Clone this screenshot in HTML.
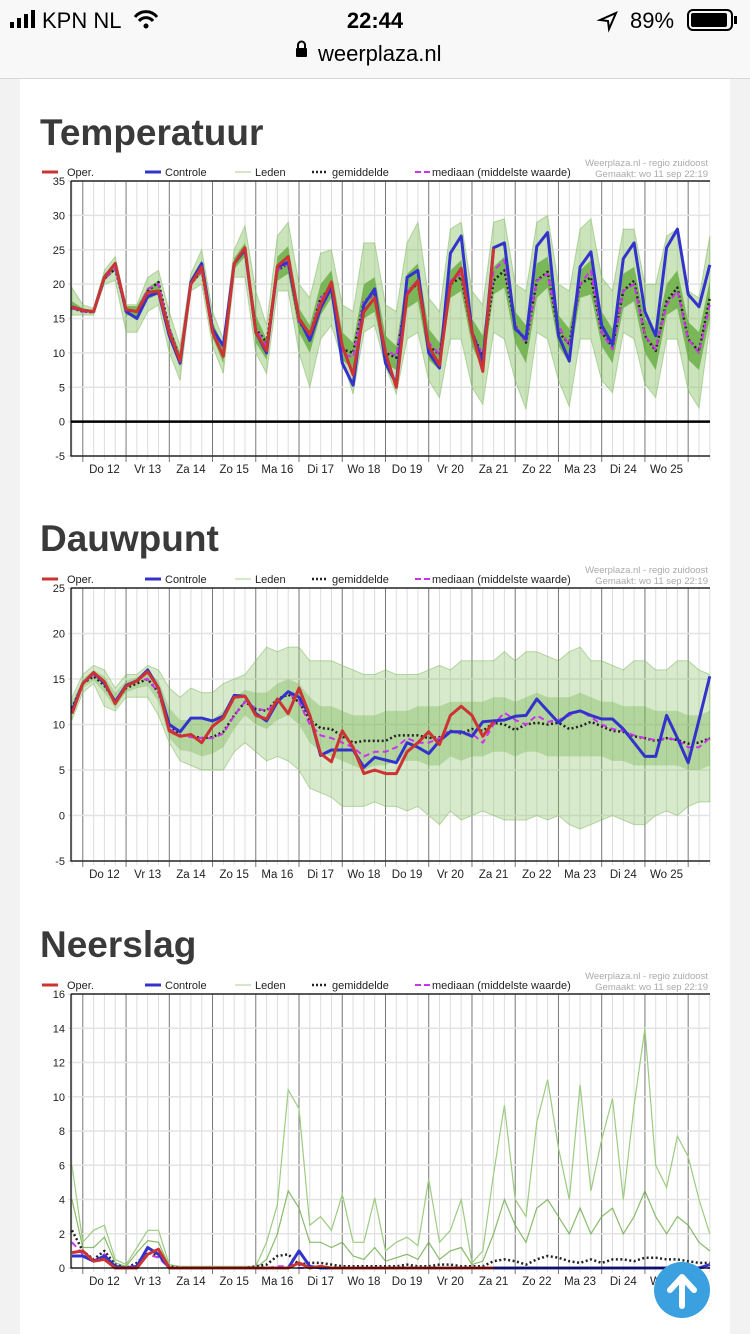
<!DOCTYPE html>
<html><head><meta charset="utf-8">
<style>
body{margin:0;width:750px;height:1334px;overflow:hidden;background:#f2f2f2;font-family:"Liberation Sans",sans-serif;position:relative}
#status{position:absolute;left:0;top:0;width:750px;height:78px;background:#f8f8f8;border-bottom:1px solid #d8d8d8}
#content{position:absolute;left:20px;top:79px;width:710px;height:1255px;background:#fff}
h2{position:absolute;left:40px;margin:0;font-size:37px;font-weight:bold;color:#3a3a3a;font-family:"Liberation Sans",sans-serif}
svg{position:absolute;left:0;top:0}
</style></head><body>
<div id="status">
  <svg width="750" height="78">
    <rect x="10" y="22" width="4" height="6" fill="#000"/><rect x="17" y="18" width="4" height="10" fill="#000"/><rect x="24" y="14" width="4" height="14" fill="#000"/><rect x="31" y="10" width="4" height="18" fill="#000"/>
    <text x="42" y="28" font-size="22" fill="#000" font-family="Liberation Sans">KPN NL</text>
    <path d="M135 17 a14 14 0 0 1 22 0 M139 21 a9 9 0 0 1 14 0" stroke="#000" stroke-width="3" fill="none"/><circle cx="146" cy="26" r="2.5" fill="#000"/>
    <text x="375" y="28" font-size="22" font-weight="bold" text-anchor="middle" fill="#000" font-family="Liberation Sans">22:44</text>
    <path d="M600 20 l16 -7 l-7 16 l-1 -8z" fill="none" stroke="#000" stroke-width="2"/>
    <text x="630" y="28" font-size="22" fill="#000" font-family="Liberation Sans">89%</text>
    <rect x="688" y="10" width="44" height="20" rx="5" fill="none" stroke="#000" stroke-width="2"/><rect x="691" y="13" width="36" height="14" rx="2" fill="#000"/><rect x="734" y="16" width="3" height="8" fill="#000"/>
    <rect x="296" y="48" width="11" height="9" rx="1" fill="#000"/><path d="M298 48 v-3 a3.5 3.5 0 0 1 7 0 v3" stroke="#000" stroke-width="2" fill="none"/>
    <text x="318" y="61" font-size="22" fill="#000" font-family="Liberation Sans">weerplaza.nl</text>
  </svg>
</div>
<div id="content"></div>
<h2 style="top:112px">Temperatuur</h2>
<h2 style="top:518px">Dauwpunt</h2>
<h2 style="top:924px">Neerslag</h2>
<svg id="charts" width="750" height="1334"></svg>
<svg width="750" height="1334" style="pointer-events:none">
  <g style="pointer-events:auto">
    <circle cx="682" cy="1290" r="28" fill="#3aa0e0"/>
    <path d="M682 1306 v-26 M670 1290 l12 -13 l12 13" stroke="#fff" stroke-width="6" fill="none" stroke-linecap="round" stroke-linejoin="round"/>
  </g>
</svg>
<script>
const dayLabels=["Do 12","Vr 13","Za 14","Zo 15","Ma 16","Di 17","Wo 18","Do 19","Vr 20","Za 21","Zo 22","Ma 23","Di 24","Wo 25"];
// Temperatuur
const tempOper=[16.7,16.2,16,21,23,16.3,16,18.8,19,13,8.8,20,22.5,13,9.5,23,25.3,13,10.3,22.6,24,15,12.7,17,20.3,11,6.8,16,18,10,5,18.5,20.5,11,8.2,20,22.3,13,7.3,25.2];
const tempCtrl=[16.7,16.2,16,21,23,16,15,18.2,18.8,12.5,8.5,20.3,23,13.5,11,23,25,13,10,22.5,23.2,15,11.8,16.5,19.5,8.5,5.3,17,19.3,8.5,5.5,21,22,10,7.8,24.5,27,13,8.5,25.3,26,13.5,12,25.5,27.5,12.5,8.8,22.5,24.7,14,11.2,23.7,26,16,12.5,25.3,28,18.5,16.7,22.8];
const tempMean=[16.5,16,15.9,20.8,22.2,16.2,16,19,20.3,13.5,9,20,22,13,9.5,23,25,13.5,11.5,22,23,14.5,12.5,18,19.5,10.5,10,17.5,18.5,10,9.3,19,20,11,9.8,20,21,13,9.5,20.5,22,14,11.5,20.5,21.8,13,11.3,20,21,13,10.8,19,20.5,12.5,10.3,17.5,19.5,12,10.2,18];
const tempMedian=[16.5,16,15.9,20.8,22.2,16.2,16,19.3,20,13.5,9,20,22,13,9.5,23,25,13.5,11,22,23,14.5,12.5,18,19,10,9.3,17.5,18.5,10.5,9.5,19,20.5,11.5,9.8,20.5,21.5,13,9.5,22,23.5,14,11.5,20.5,21.5,14,11,20,22,13,10.5,19,20,12.5,10.5,17,19,12,10,17];
const tempHi=[19.5,17,16.5,22,24,17,17,21,22,16,11,21.5,25,16,12,25,28.5,19,14,27,29,20,18,24.5,25,17,16,26,26,17,16,26,29,18,16,28,29,19,17,29,29.5,20,19,29,30,20,19,28,29.5,21,19,28,28,20,20,27,28,19,18,27];
const tempLo=[15.5,15.5,15.5,20,20.5,13,13,16,17,10,6,19,20,11,7,21,21,10,7,19,19,10,5,12,14,9,4,13,14,8,4,12,13,6,3.5,12,12,5,2.5,13,12,6,1.8,13,12,6,2.2,12,12,6,4.2,13,12,5.5,3.5,12,12,4.5,2,14];
const tempQ3=[17.5,16.5,16.2,21.5,23,16.8,16.8,19.5,20.5,14,10,20.8,23.5,14.5,11,23.8,26,15.5,12,24,25.5,16.5,14,20,22,13,11.5,20,21,12.5,11,21.5,23,13.5,11.5,22,23.5,15,12.5,22.5,24,16,14,23,24,15.5,13.5,22,23.5,16,13.5,21.5,22.5,15,13,20,22,14.5,13,20.5];
const tempQ1=[16.3,15.9,15.8,20.5,22,15.5,15.3,17.8,18.5,12,8,19.8,21.5,12.3,8.5,22.2,24,11.5,9,20.5,21.5,13,10,15.5,18,9,7.5,15,16,8.5,7.5,16.5,17.5,9,7.5,18,19,11,7.5,18.5,19.5,11.5,8.5,18,19.5,11,8.5,18,18.5,11,8.5,16.5,17.5,10,7.5,15.5,16.5,9,7.5,15];
// Dauwpunt
const dewOper=[11.2,14.5,15.7,14.7,12.3,14.2,14.8,15.8,14,9.3,8.7,8.9,8,9.8,10.7,13,13.1,11,10.6,12.8,11.2,14,11,6.8,5.9,9.3,7.5,4.6,5,4.6,4.6,7,8,9.2,7.8,11,12,11,8.7,10.3];
const dewCtrl=[11.5,14.5,15.7,14.5,12.5,14.3,14.8,16,14,10,9.2,10.7,10.7,10.4,10.9,13.2,13.1,11.2,10.4,12.5,13.6,13,11,6.6,7.2,7.2,7.2,5.3,6.4,6.1,5.8,8,7.5,6.8,8.2,9.2,9.2,8.7,10.3,10.4,10.5,10.9,11,12.8,11.5,10.2,11.2,11.5,11,10.6,10.6,9.5,8,6.5,6.5,11,8.5,5.8,10.5,15.3];
const dewMean=[11.8,14.5,15.3,14.3,12.5,14,14.5,15,13.5,10,8.8,8.8,8.5,8.6,9.2,11,12.5,11.7,11.5,12.8,13.3,12.5,10.5,9.6,9.5,8.7,8,8.2,8.2,8.2,8.8,8.8,8.8,8.5,8.6,9.3,9,9.5,9.3,10.2,10,9.4,10,10.2,10,10.2,9.5,9.8,10.3,9.8,9.3,9.2,8.7,8.5,8.2,8.5,8.3,7.9,8,8.5];
const dewMedian=[11.5,14.5,15.5,14.5,12.3,14.2,14.8,15,13.5,9.5,8.8,8.6,8.5,8.5,9,11,12.5,11.8,11.5,12.5,13.5,12.5,10,8.8,8.5,8,7.5,6.5,7,7,7.5,8.5,8,8,8.5,9.3,9,9,8,10,11.3,10.5,10,11,10.3,10.5,11,11.5,10.8,10,9.5,9.3,8.8,8.5,8.3,8.5,8.3,7.5,7.5,8.5];
const dewHi=[13,15.5,16.5,16,14,15.5,15.5,16.5,16,14,13,14,13.5,13.5,14.5,15,15.5,17,18.5,18,18.5,18.5,17,17,17,16.5,16,15.5,15.5,16,15.5,15.5,15.5,16,16.5,16,17,17,17,17,18,17,18,18,17.5,17,18,18.5,17,17,16.5,16,17,17,16,16,17,17,16,15.5];
const dewLo=[10.5,13.5,14.5,12,11.5,13,13,13,11,8,6,5.5,5,5,5,7,8,7,6,6.5,6,5,3,2.5,2,1,1,1,1.5,1,1,0.5,1,0,-1,0.5,-0.5,0,0.5,0,-0.5,-0.5,-0.5,0,-0.5,0,-1,-1.5,-1,-0.5,0,-0.5,-1,-1,0,0.5,0,1,1.5,1.5];
const dewQ3=[12.5,15,16,15.3,13.5,14.8,15.2,15.8,14.8,11.8,10.5,10.5,10.5,10.5,11.5,13,13.8,13.5,13.5,14.5,15,14.5,13,12,12,11.5,11,11,11,11.5,11.5,11.5,12,12,12,12.5,12.5,12.5,12.5,13,13,12.5,13,13.5,13,13,13,13.5,13,12.5,12.5,12,12,12,11.5,11.5,11.5,11,11,11.5];
const dewQ1=[11,14,14.8,13.5,11.8,13.5,14,14.2,12.5,8.5,7.2,7,6.5,6.8,7.5,9.5,11,10,9.5,10.5,11,10,8,7,6.5,6,5.5,5,5.5,5.5,6,6,6,5.5,5.5,6.5,6,6.5,6.5,7,7,6.5,7,7,6.5,6.5,6.5,6.5,6.5,6.5,6,6,5.5,5.5,5.5,5.5,5.5,5,5,5.5];
// Neerslag
const rainOper=[0.9,1,0.4,0.5,0,0,0,0.8,1.1,0,0,0,0,0,0,0,0,0,0,0,0,0.3,0,0.1,0,0,0,0,0,0,0,0,0,0,0,0,0,0,0,0];
const rainCtrl=[0.7,0.7,0.4,0.7,0.1,0,0.1,1.2,0.8,0,0,0,0,0,0,0,0,0,0,0,0,1,0.1,0,0,0,0,0,0,0,0,0,0,0,0,0,0,0,0,0,0,0,0,0,0,0,0,0,0,0,0,0,0,0,0,0,0,0,0,0.2];
const rainMean=[2.2,1,0.5,1,0.2,0,0.3,0.9,0.7,0.1,0,0,0,0,0,0,0,0.1,0.2,0.7,0.8,0.2,0.3,0.3,0.2,0.1,0.1,0.1,0.1,0.1,0.1,0.2,0.1,0.1,0.2,0.2,0.1,0.1,0.1,0.4,0.5,0.4,0.2,0.5,0.7,0.6,0.4,0.3,0.5,0.3,0.5,0.5,0.4,0.6,0.6,0.5,0.5,0.4,0.3,0.3];
const rainMedian=[1.5,0.8,0.4,0.8,0.1,0,0.2,0.8,0.6,0,0,0,0,0,0,0,0,0,0,0.1,0.1,0,0,0,0,0,0,0,0,0,0,0,0,0,0,0,0,0,0,0,0,0,0,0,0,0,0,0,0,0,0,0,0,0,0,0,0,0,0,0];
const rainHi=[6,1.5,2.2,2.5,0.5,0.2,1.2,2.2,2.2,0.2,0.1,0.1,0.1,0.1,0.1,0.1,0.1,0.1,1.5,3.7,10.4,9.3,2.5,3,2.2,4.3,1.5,1.5,4.1,1,1.5,1.8,1.3,5.2,1.5,2.2,4,0.3,1,5.5,9.5,4,3,8.5,11,7,4,10.7,4.5,7.5,9.9,4,9.5,14,6,4.7,7.7,6.5,4,2];
const rainQ3=[4,1.2,1.2,1.8,0.3,0.1,0.9,1.6,1.5,0.1,0,0,0,0,0,0,0,0,0.5,2,4.5,3.5,1.5,1.5,1.2,1.5,0.7,0.5,1.2,0.4,0.6,0.8,0.5,1.5,0.5,1,1.2,0.2,0.4,2,4,2.5,1.5,3.5,4,3,2,3.5,2,3,3.5,2,3,4.5,3,2,3,2.5,1.5,1];

const NS='http://www.w3.org/2000/svg';
const root=document.getElementById('charts');
function X(i){return 72+i*10.81;}
function mk(tag,attrs,parent){const e=document.createElementNS(NS,tag);for(const k in attrs)e.setAttribute(k,attrs[k]);(parent||root).appendChild(e);return e;}
function pts(arr,Y){return arr.map((v,i)=>X(i).toFixed(1)+','+Y(v).toFixed(1)).join(' ');}
function band(hi,lo,Y){return pts(hi,Y)+' '+lo.map((v,i)=>[X(i),Y(v)]).reverse().map(p=>p[0].toFixed(1)+','+p[1].toFixed(1)).join(' ');}

function chart(c){
  const g=mk('g',{});
  
  
  const Y=v=>c.bot-(v-c.min)/(c.max-c.min)*(c.bot-c.top);
  for(let i=0;i<=59;i++){
    const day=(i-1)%4===0;
    const l=mk('line',{x1:X(i),x2:X(i),y1:c.top,y2:c.bot+(day?6:4),stroke:day?'#777':'#ddd','stroke-width':1},g);
    
    
  }
  for(let v=c.min;v<=c.max;v+=c.step){
    const l=mk('line',{x1:68,x2:710,y1:Y(v),y2:Y(v),stroke:'#e3e3e3','stroke-width':1.5},g);
    
    
    const t=mk('text',{x:65,y:Y(v)+4,'text-anchor':'end','font-size':11,fill:'#222','font-family':'Liberation Sans'},g);
    t.textContent=v;
    
    
  }
  dayLabels.forEach((d,k)=>{
    const t=mk('text',{x:X(3+4*k),y:c.bot+17,'text-anchor':'middle','font-size':11.5,fill:'#222','font-family':'Liberation Sans'},g);
    t.textContent=d;
    
    
  });
  if(c.spiky){
    const l1=mk('polyline',{points:pts(c.hi,Y),fill:'none',stroke:'#9ccc80','stroke-width':1.2},g);
    
    
    const l2=mk('polyline',{points:pts(c.q3,Y),fill:'none',stroke:'#6aaa45','stroke-width':1.2,'stroke-opacity':0.8},g);
    
    
  } else {
    const b1=mk('polygon',{points:band(c.hi,c.lo,Y),fill:'#8cc46a','fill-opacity':c.op,stroke:'#7ab85a','stroke-opacity':0.5,'stroke-width':1},g);
    
    
    const b2=mk('polygon',{points:band(c.q3,c.q1,Y),fill:'#5fa838','fill-opacity':c.qop,stroke:'none'},g);
    
    
  }
  if(c.zero){const z=mk('line',{x1:71,x2:710,y1:Y(0),y2:Y(0),stroke:'#000','stroke-width':2.5},g);
    
    }
  const series=[[c.mean,'#222',2.5,'2,2.5','mean-line'],[c.median,'#cc33ee',2,'6,4','median-line'],[c.ctrl,'#3333cc',3,'','control-line'],[c.oper,'#cc3333',3,'','oper-line']];
  series.forEach(s=>{
    const p=mk('polyline',{points:pts(s[0],Y),fill:'none',stroke:s[1],'stroke-width':s[2],'stroke-dasharray':s[3],'stroke-linejoin':'round'},g);
    
    
  });
  const ax=mk('path',{d:`M71 ${c.top} V${c.bot} H710 M71 ${c.top} H710`,stroke:'#000','stroke-width':1.2,fill:'none'},g);
  
  
  const ly=c.top-6;
  const leg=[[42,'#cc3333',3,'','Oper.',67],[145,'#3333cc',3,'','Controle',165],[235,'#a8d090',1,'','Leden',255],[312,'#222',2.5,'2,2','gemiddelde',332],[415,'#cc33ee',2,'6,3','mediaan (middelste waarde)',432]];
  leg.forEach(L=>{
    const lg=mk('g',{},g);
    
    
    mk('line',{x1:L[0],x2:L[0]+16,y1:ly-3,y2:ly-3,stroke:L[1],'stroke-width':L[2],'stroke-dasharray':L[3]},lg);
    const t=mk('text',{x:L[5],y:ly+1,'font-size':11,fill:'#222','font-family':'Liberation Sans'},lg);
    t.textContent=L[4];
  });
  const w1=mk('text',{x:708,y:c.top-15,'text-anchor':'end','font-size':9.5,fill:'#aaa','font-family':'Liberation Sans'},g);
  w1.textContent='Weerplaza.nl - regio zuidoost';
  
  
  const w2=mk('text',{x:708,y:c.top-4,'text-anchor':'end','font-size':9.5,fill:'#aaa','font-family':'Liberation Sans'},g);
  w2.textContent='Gemaakt: wo 11 sep 22:19';
  
  
}
chart({name:'temperature-chart',min:-5,max:35,step:5,top:181,bot:456,hi:tempHi,lo:tempLo,q3:tempQ3,q1:tempQ1,op:0.45,qop:0.75,mean:tempMean,median:tempMedian,ctrl:tempCtrl,oper:tempOper,zero:true});
chart({name:'dewpoint-chart',min:-5,max:25,step:5,top:588,bot:861,hi:dewHi,lo:dewLo,q3:dewQ3,q1:dewQ1,op:0.35,qop:0.3,mean:dewMean,median:dewMedian,ctrl:dewCtrl,oper:dewOper,zero:false});
chart({name:'precipitation-chart',min:0,max:16,step:2,top:994,bot:1268,hi:rainHi,lo:rainHi,q3:rainQ3,q1:rainQ3,spiky:true,mean:rainMean,median:rainMedian,ctrl:rainCtrl,oper:rainOper,zero:false});
</script>
</body></html>
